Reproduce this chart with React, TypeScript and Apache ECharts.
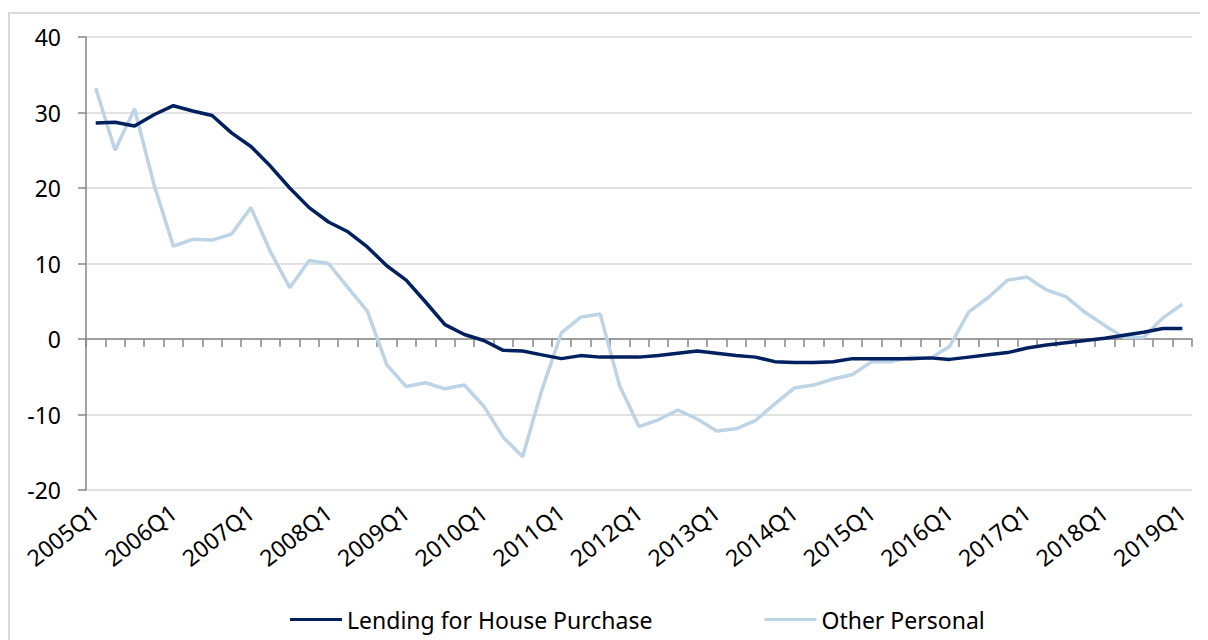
import React, { useEffect, useRef } from "react";
import * as echarts from "echarts";

const quarters: string[] = [];
for (let y = 2005; y <= 2019; y++) {
  for (let q = 1; q <= 4; q++) {
    if (y === 2019 && q > 1) break;
    quarters.push(`${y}Q${q}`);
  }
}

const lendingHouse = [
  28.6, 28.7, 28.2, 29.7, 30.9, 30.2, 29.6, 27.3, 25.5, 22.9,
  20.0, 17.4, 15.5, 14.2, 12.2, 9.7, 7.8, 4.9, 1.9, 0.6,
  -0.2, -1.5, -1.6, -2.1, -2.6, -2.2, -2.4, -2.4, -2.4, -2.2,
  -1.9, -1.6, -1.9, -2.2, -2.4, -3.0, -3.1, -3.1, -3.0, -2.6,
  -2.6, -2.6, -2.6, -2.5, -2.7, -2.4, -2.1, -1.8, -1.2, -0.8,
  -0.5, -0.2, 0.1, 0.5, 0.9, 1.4, 1.4,
];

const otherPersonal = [
  33.2, 25.0, 30.5, 20.5, 12.3, 13.2, 13.1, 13.9, 17.4, 11.6,
  6.8, 10.4, 10.0, 6.8, 3.7, -3.4, -6.3, -5.8, -6.6, -6.1,
  -8.9, -13.0, -15.6, -6.7, 0.8, 2.9, 3.3, -6.2, -11.6, -10.7,
  -9.4, -10.6, -12.2, -11.9, -10.8, -8.6, -6.5, -6.1, -5.3, -4.7,
  -3.0, -3.0, -2.4, -2.6, -1.0, 3.6, 5.5, 7.8, 8.2, 6.5,
  5.6, 3.5, 1.8, 0.2, 0.2, 2.8, 4.6,
];

const FONT = "Noto Sans";

export default function App() {
  const ref = useRef<HTMLDivElement>(null);
  useEffect(() => {
    document.body.style.margin = "0";
    document.body.style.overflow = "hidden";
    if (!ref.current) return;
    const chart = echarts.init(ref.current, null, { renderer: "svg" });
    chart.setOption({
      animation: false,
      textStyle: { fontFamily: FONT },
      graphic: [
        {
          type: "rect",
          shape: { x: 1, y: 5, width: 1400, height: 800 },
          style: { fill: "none", stroke: "#d9d9d9", lineWidth: 2 },
          silent: true,
        },
      ],
      grid: { left: 78, right: 8, top: 29, bottom: 150, containLabel: false },
      legend: {
        top: 595,
        left: 277,
        icon: "rect",
        itemWidth: 52,
        itemHeight: 3,
        itemGap: 112,
        textStyle: { fontFamily: FONT, fontSize: 23, color: "#000" },
        data: ["Lending for House Purchase", "Other Personal"],
      },
      xAxis: [
        {
          type: "category",
          data: quarters,
          boundaryGap: true,
          position: "bottom",
          axisLine: { show: false, onZero: false },
          axisTick: { show: false },
          splitLine: { show: false },
          axisLabel: {
            interval: 3,
            rotate: 38,
            margin: 19,
            fontFamily: FONT,
            fontSize: 23,
            color: "#000",
          },
        },
        {
          type: "category",
          data: quarters,
          boundaryGap: true,
          position: "bottom",
          axisLine: { show: true, onZero: true, lineStyle: { color: "#868686", width: 1.5 } },
          axisTick: { show: true, interval: 0, length: 8, inside: false, lineStyle: { color: "#868686", width: 1.5 } },
          axisLabel: { show: false },
          splitLine: { show: false },
        },
      ],
      yAxis: {
        type: "value",
        min: -20,
        max: 40,
        interval: 10,
        axisLine: { show: true, lineStyle: { color: "#868686", width: 1.5 } },
        axisTick: { show: true, length: 8, lineStyle: { color: "#868686", width: 1.5 } },
        splitLine: { show: true, lineStyle: { color: "#d9d9d9", width: 1.5 } },
        axisLabel: { margin: 25, fontFamily: FONT, fontSize: 23, color: "#000" },
      },
      series: [
        {
          name: "Lending for House Purchase",
          type: "line",
          xAxisIndex: 0,
          data: lendingHouse,
          showSymbol: false,
          symbol: "none",
          lineStyle: { color: "#002060", width: 3.5 },
          itemStyle: { color: "#002060" },
          z: 3,
        },
        {
          name: "Other Personal",
          type: "line",
          xAxisIndex: 0,
          data: otherPersonal,
          showSymbol: false,
          symbol: "none",
          lineStyle: { color: "#bdd3e6", width: 3.5 },
          itemStyle: { color: "#bdd3e6" },
          z: 2,
        },
      ],
    });
    return () => chart.dispose();
  }, []);
  return (
    <div style={{ paddingLeft: 8, paddingTop: 8, width: 1200, height: 632 }}>
      <div ref={ref} style={{ width: 1192, height: 632 }} />
    </div>
  );
}
